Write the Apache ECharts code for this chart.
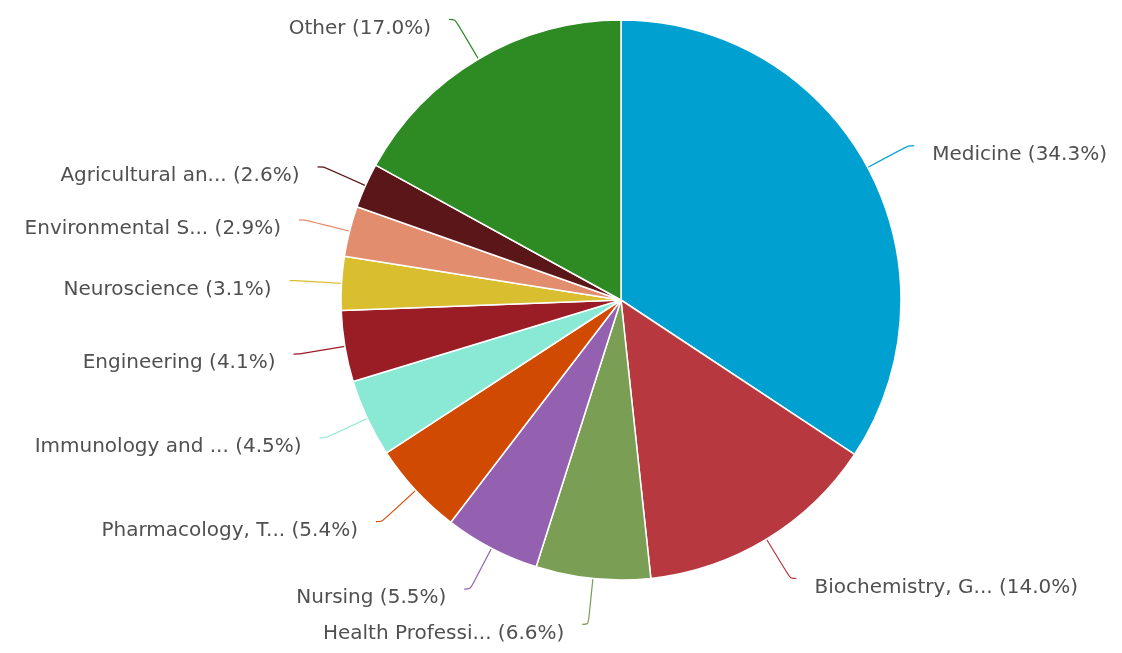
<!DOCTYPE html>
<html><head><meta charset="utf-8">
<script src="https://cdn.jsdelivr.net/npm/echarts@6/dist/echarts.min.js"></script>
<style>html,body{margin:0;padding:0;background:#fff}#c{width:1122px;height:653px}</style>
</head><body><div id="c"></div>
<script>
const categories = ["Medicine","Biochemistry, G...","Health Professi...","Nursing","Pharmacology, T...","Immunology and ...","Engineering","Neuroscience","Environmental S...","Agricultural an...","Other"];
const values = [34.3,14.0,6.6,5.5,5.4,4.5,4.1,3.1,2.9,2.6,17.0];
const colors = ["#00a0d1","#b8383f","#7b9e55","#9361b0","#d14a02","#89e9d4","#9a1c25","#d9bf30","#e28e6e","#5b1619","#2e8a22"];

const chart = echarts.init(document.getElementById('c'));
chart.setOption({
  animation:false,
  series:[{
    type:'pie',
    center:[621,300],
    radius:[0,280],
    startAngle:90,
    clockwise:true,
    avoidLabelOverlap:true,
    itemStyle:{borderColor:'#ffffff',borderWidth:1.5},
    label:{
      show:true,
      formatter:p=>p.name+' ('+p.value.toFixed(1)+'%)',
      fontFamily:'DejaVu Sans',
      fontSize:20,
      color:'#505050',
      distanceToLabelLine:18
    },
    labelLayout:function(){return {dy:9};},
    labelLine:{show:true,length:46,length2:6,smooth:0.3,lineStyle:{width:1.2}},
    data:categories.map((n,i)=>({name:n,value:values[i],itemStyle:{color:colors[i]},labelLine:{lineStyle:{color:colors[i]}}}))
  }]
});
</script></body></html>
